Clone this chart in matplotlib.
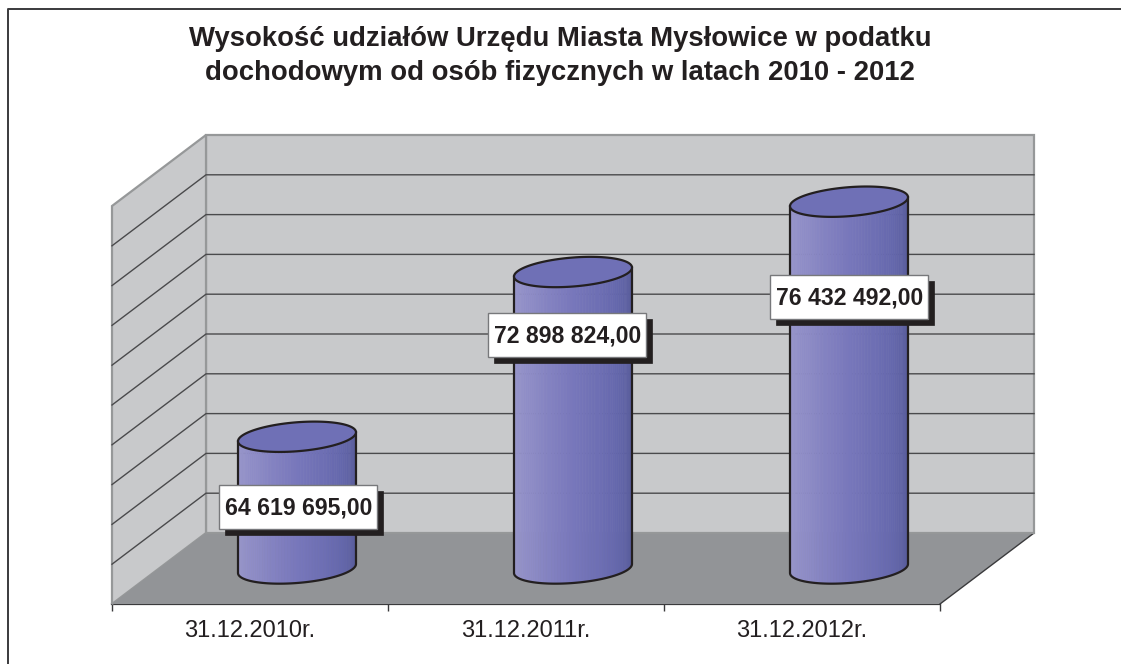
import numpy as np
import matplotlib
matplotlib.use('Agg')
import matplotlib.pyplot as plt
from matplotlib.patches import Polygon, Rectangle
from matplotlib.transforms import Affine2D, IdentityTransform

categories = ['31.12.2010r.', '31.12.2011r.', '31.12.2012r.']
values = [64619695.00, 72898824.00, 76432492.00]
value_labels = ['64 619 695,00', '72 898 824,00', '76 432 492,00']
title = 'Wysokość udziałów Urzędu Miasta Mysłowice w podatku\ndochodowym od osób fizycznych w latach 2010 - 2012'
axis_min = 58000000
axis_max = 78000000
axis_step = 2000000

W, H = 1121, 664
DEPTH_X, DEPTH_Y = 94, 71
WALL = '#c8c9cb'
FLOOR = '#929497'
EDGE = '#969899'
GRID = '#4a4a4c'
INK = '#231f20'
SIDE_COLORS = ['#9c9acb', '#8e8cc6', '#7877bb', '#6668ae', '#555a96']

plt.rcParams['font.family'] = ['Liberation Sans', 'DejaVu Sans']

fig = plt.figure(figsize=(W / 100, H / 100), dpi=100)
ax = fig.add_axes([112 / W, (H - 604) / H, 828 / W, 398 / H])
ax.set_xlim(0, len(categories))
ax.set_ylim(axis_min, axis_max)
ax.patch.set_visible(False)
for s in ['top', 'left', 'right']:
    ax.spines[s].set_visible(False)
ax.spines['bottom'].set_color('#3a3a3c')
ax.spines['bottom'].set_linewidth(1.6)
ax.set_yticks([])
ax.set_xticks(range(len(categories) + 1))
ax.set_xticklabels([])
ax.tick_params(axis='x', length=5, width=1, color='#3a3a3c')
for i, c in enumerate(categories):
    ax.text(i + 0.5, axis_min, c, transform=ax.transData + Affine2D().translate(0, -33),
            ha='center', va='baseline', fontsize=17, color=INK)

back = ax.transData + Affine2D().translate(DEPTH_X, DEPTH_Y)
xmax = len(categories)


def to_back(x, y):
    return back.transform((x, y))


def to_front(x, y):
    return ax.transData.transform((x, y))


def add_px(points, **kw):
    fig.add_artist(Polygon(points, closed=True, transform=IdentityTransform(), **kw))


# walls and floor
add_px([to_back(0, axis_min), to_back(xmax, axis_min), to_back(xmax, axis_max), to_back(0, axis_max)],
       facecolor=WALL, edgecolor=EDGE, lw=1.6, zorder=1)
add_px([to_front(0, axis_min), to_back(0, axis_min), to_back(0, axis_max), to_front(0, axis_max)],
       facecolor=WALL, edgecolor=EDGE, lw=1.6, zorder=1)
add_px([to_front(0, axis_min), to_front(xmax, axis_min), to_back(xmax, axis_min), to_back(0, axis_min)],
       facecolor=FLOOR, edgecolor='none', zorder=2)

# gridlines on the back and left walls
for v in np.arange(axis_min + axis_step, axis_max, axis_step):
    pts = np.array([to_front(0, v), to_back(0, v), to_back(xmax, v)])
    fig.add_artist(plt.Line2D(pts[:, 0], pts[:, 1], transform=IdentityTransform(),
                              color=GRID, lw=1.0, zorder=2))
pts = np.array([to_front(xmax, axis_min), to_back(xmax, axis_min)])
fig.add_artist(plt.Line2D(pts[:, 0], pts[:, 1], transform=IdentityTransform(), color='#3a3a3c', lw=1.0, zorder=3))
pts = np.array([to_back(0, axis_min), to_back(xmax, axis_min)])
fig.add_artist(plt.Line2D(pts[:, 0], pts[:, 1], transform=IdentityTransform(), color=EDGE, lw=1.4, zorder=3))


def ellipse(cx, cy, t):
    return cx + 59 * np.cos(t), cy + 14.5 * np.sin(t) + 4.5 * np.cos(t)


# cylinders
mid = ax.transData + Affine2D().translate(DEPTH_X / 2, DEPTH_Y / 2)
for i, v in enumerate(values):
    cx, y0 = mid.transform((i + 0.5, axis_min))
    _, y1 = mid.transform((i + 0.5, v))
    t = np.linspace(np.pi, 2 * np.pi, 61)
    xb, yb = ellipse(cx, y0, t)
    xt, yt = ellipse(cx, y1, t)
    shade = np.linspace(0, 1, len(SIDE_COLORS))
    rgb = np.array([matplotlib.colors.to_rgb(c) for c in SIDE_COLORS])
    for k in range(len(t) - 1):
        f = (k + 0.5) / (len(t) - 1)
        col = [np.interp(f, shade, rgb[:, n]) for n in range(3)]
        add_px([(xb[k], yb[k]), (xb[k + 1], yb[k + 1]), (xt[k + 1], yt[k + 1]), (xt[k], yt[k])],
               facecolor=col, edgecolor=col, lw=0.4, zorder=4)
    # outline of the side
    ox = np.r_[xt[0], xb, xt[-1]]
    oy = np.r_[yt[0], yb, yt[-1]]
    fig.add_artist(plt.Line2D(ox, oy, transform=IdentityTransform(), color=INK, lw=1.6, zorder=5))
    tt = np.linspace(0, 2 * np.pi, 121)
    xe, ye = ellipse(cx, y1, tt)
    add_px(np.c_[xe, ye], facecolor='#6f70b6', edgecolor=INK, lw=1.6, zorder=5)

# value labels, placed by hand in the original
label_centers = [(298, 507), (567, 334.5), (849, 296.5)]
for (px, py), lab in zip(label_centers, value_labels):
    x0, y0 = px - 79, H - py - 22
    fig.add_artist(Rectangle((x0 + 6, y0 - 6), 158, 44, transform=IdentityTransform(),
                             facecolor=INK, edgecolor=INK, lw=0.5, zorder=6))
    fig.add_artist(Rectangle((x0, y0), 158, 44, transform=IdentityTransform(),
                             facecolor='white', edgecolor='#77787b', lw=1.0, zorder=7))
    fig.text((px + 0.5) / W, 1 - (py - 1) / H, lab, ha='center', va='center_baseline', fontsize=16.6,
             fontweight='bold', color=INK, zorder=8)

# title and frame
fig.text(560 / W, 1 - 56.5 / H, title, ha='center', va='center', fontsize=19.8, fontweight='bold',
         color=INK, linespacing=1.4)
fig.add_artist(plt.Line2D([8 / W, 8 / W, 1], [0, 1 - 8.5 / H, 1 - 8.5 / H], color='#3a3a3c', lw=1.4))

fig.savefig('out.png', dpi=100)
